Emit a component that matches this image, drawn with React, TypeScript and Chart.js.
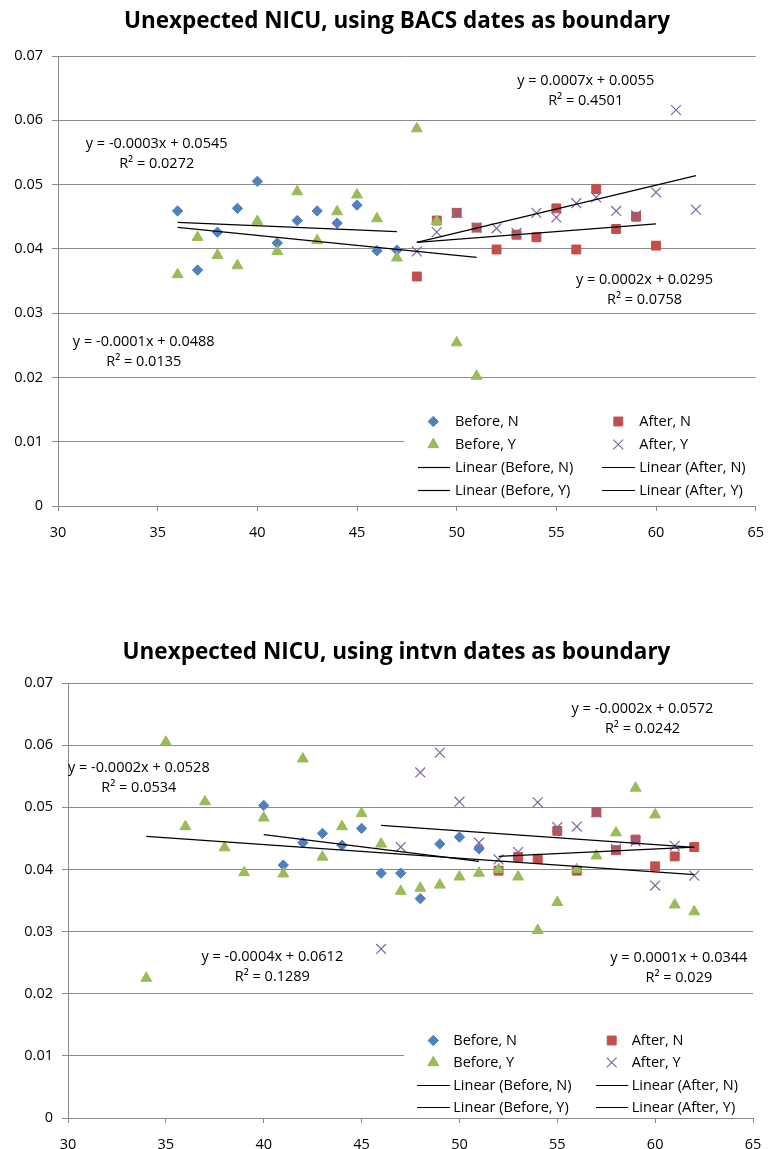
import React, { useEffect, useRef } from 'react';
import { Chart, registerables } from 'chart.js';
import { drawPoint } from 'chart.js/helpers';

Chart.register(...registerables);

// ---------- Series colours (Office palette) ----------
const BLUE = '#4F81BD';
const RED = '#C0504D';
const GREEN = '#9BBB59';
const PURPLE = '#8064A2';
const GRID = '#8a8a8a';
const FONT = '"Open Sans", Lato, sans-serif';

// ---------- Axis ticks ----------
const X_MIN = 30;
const X_MAX = 65;
const X_STEP = 5;
const Y_MIN = 0;
const Y_MAX = 0.07;
const Y_STEP = 0.01;

const SERIES_NAMES = ['Before, N', 'After, N', 'Before, Y', 'After, Y'];

// ---------- Panel 1: BACS dates as boundary ----------
const bacsBeforeNX = [36, 37, 38, 39, 40, 41, 42, 43, 44, 45, 46, 47];
const bacsBeforeNY = [0.0459, 0.0367, 0.0426, 0.0463, 0.0505, 0.0409, 0.0444, 0.0459, 0.044, 0.0468, 0.0397, 0.0398];

const bacsAfterNX = [48, 49, 50, 51, 52, 53, 54, 55, 56, 57, 58, 59, 60];
const bacsAfterNY = [0.0357, 0.0444, 0.0456, 0.0433, 0.0399, 0.0422, 0.0418, 0.0463, 0.0399, 0.0493, 0.0431, 0.045, 0.0405];

const bacsBeforeYX = [36, 37, 38, 39, 40, 41, 42, 43, 44, 45, 46, 47, 48, 49, 50, 51];
const bacsBeforeYY = [0.036, 0.0418, 0.039, 0.0374, 0.0443, 0.0396, 0.0489, 0.0413, 0.0458, 0.0484, 0.0447, 0.0386, 0.0587, 0.0443, 0.0254, 0.0202];

const bacsAfterYX = [48, 49, 50, 51, 52, 53, 54, 55, 56, 57, 58, 59, 60, 61, 62];
const bacsAfterYY = [0.0396, 0.0426, 0.0456, 0.0433, 0.0432, 0.0425, 0.0456, 0.0449, 0.0471, 0.048, 0.0459, 0.0452, 0.0488, 0.0616, 0.0461];

// Linear trend fits, in series order: Before N, After N, Before Y, After Y
const bacsSlopes = [-0.00013, 0.00024, -0.00031, 0.00074];
const bacsIntercepts = [0.0488, 0.0295, 0.0545, 0.0055];
const bacsR2 = [0.0135, 0.0758, 0.0272, 0.4501];

// ---------- Panel 2: intervention dates as boundary ----------
const intvnBeforeNX = [40, 41, 42, 43, 44, 45, 46, 47, 48, 49, 50, 51];
const intvnBeforeNY = [0.0503, 0.0407, 0.0443, 0.0458, 0.0439, 0.0466, 0.0394, 0.0394, 0.0353, 0.0441, 0.0452, 0.0433];

const intvnAfterNX = [52, 53, 54, 55, 56, 57, 58, 59, 60, 61, 62];
const intvnAfterNY = [0.0398, 0.042, 0.0417, 0.0462, 0.0398, 0.0492, 0.0431, 0.0448, 0.0405, 0.0421, 0.0436];

const intvnBeforeYX = [34, 35, 36, 37, 38, 39, 40, 41, 42, 43, 44, 45, 46, 47, 48, 49, 50, 51, 52, 53, 54, 55, 56, 57, 58, 59, 60, 61, 62];
const intvnBeforeYY = [0.0225, 0.0605, 0.0469, 0.0509, 0.0435, 0.0395, 0.0483, 0.0393, 0.0578, 0.042, 0.0469, 0.049, 0.0441, 0.0365, 0.037, 0.0375, 0.0388, 0.0394, 0.04, 0.0388, 0.0302, 0.0347, 0.04, 0.0422, 0.0459, 0.0531, 0.0488, 0.0343, 0.0332];

const intvnAfterYX = [46, 47, 48, 49, 50, 51, 52, 53, 54, 55, 56, 57, 58, 59, 60, 61, 62];
const intvnAfterYY = [0.0272, 0.0436, 0.0556, 0.0588, 0.0509, 0.0443, 0.0416, 0.0428, 0.0508, 0.0468, 0.0469, 0.0492, 0.0433, 0.0445, 0.0374, 0.0438, 0.039];

const intvnSlopes = [-0.00039, 0.000148, -0.00022, -0.00022];
const intvnIntercepts = [0.0612, 0.0344, 0.0528, 0.0572];
const intvnR2 = [0.1289, 0.029, 0.0534, 0.0242];

// ---------- Marker look per series ----------
const MARKERS = [
  { color: BLUE, pointStyle: 'rectRot', radius: 5.2, borderWidth: 1 },
  { color: RED, pointStyle: 'rect', radius: 6.3, borderWidth: 1 },
  { color: GREEN, pointStyle: 'triangle', radius: 6.3, borderWidth: 1 },
  { color: PURPLE, pointStyle: 'crossRot', radius: 7, borderWidth: 1.2 },
];

type Panel = {
  title: string;
  xs: number[][];
  ys: number[][];
  slopes: number[];
  intercepts: number[];
  r2: number[];
  // where each trend equation is centred, in axis units
  labelAt: [number, number][];
  height: number;
  area: { left: number; right: number; top: number; bottom: number };
  titleX: number;
  titleY: number;
  legend: { box: [number, number, number, number]; rows: number[]; markerX: number[]; textX: number[]; lineX: [number, number][] };
};

const PANELS: Panel[] = [
  {
    title: 'Unexpected NICU, using BACS dates as boundary',
    xs: [bacsBeforeNX, bacsAfterNX, bacsBeforeYX, bacsAfterYX],
    ys: [bacsBeforeNY, bacsAfterNY, bacsBeforeYY, bacsAfterYY],
    slopes: bacsSlopes,
    intercepts: bacsIntercepts,
    r2: bacsR2,
    labelAt: [[34.3, 0.0255], [59.42, 0.0352], [34.95, 0.0563], [56.47, 0.0662]],
    height: 560,
    area: { left: 58, right: 765, top: 56, bottom: 506 },
    titleX: 397,
    titleY: 22,
    legend: {
      box: [404, 403, 361, 100],
      rows: [421.5, 444.5, 467.5, 490.5],
      markerX: [433.3, 618.3],
      textX: [455, 639.3],
      lineX: [[418, 450], [602, 635]],
    },
  },
  {
    title: 'Unexpected NICU, using intvn dates as boundary',
    xs: [intvnBeforeNX, intvnAfterNX, intvnBeforeYX, intvnAfterYX],
    ys: [intvnBeforeNY, intvnAfterNY, intvnBeforeYY, intvnAfterYY],
    slopes: intvnSlopes,
    intercepts: intvnIntercepts,
    r2: intvnR2,
    labelAt: [[40.44, 0.026], [61.21, 0.0258], [33.62, 0.0564], [59.35, 0.0658]],
    height: 549,
    area: { left: 68, right: 753, top: 83, bottom: 518 },
    titleX: 396.5,
    titleY: 53,
    legend: {
      box: [404, 421, 349, 95],
      rows: [440.5, 462.5, 485.5, 507.5],
      markerX: [433.3, 611.7],
      textX: [453.3, 631.7],
      lineX: [[417, 450], [596, 628.3]],
    },
  },
];

const X_AXIS_H = 36;
const CANVAS_W = 777;
const LINE_GAP = 20;

function trendLabel(slope: number, intercept: number) {
  return `y = ${slope.toFixed(4)}x + ${intercept.toFixed(4)}`;
}

function buildChart(canvas: HTMLCanvasElement, p: Panel) {
  const seriesSets = p.xs.map((xs, i) => ({
    label: SERIES_NAMES[i],
    data: xs.map((x, j) => ({ x, y: p.ys[i][j] })),
    pointStyle: MARKERS[i].pointStyle,
    pointRadius: MARKERS[i].radius,
    pointBorderWidth: MARKERS[i].borderWidth,
    backgroundColor: MARKERS[i].color,
    borderColor: MARKERS[i].color,
    showLine: false,
    order: 4 - i,
  }));

  const trendSets = p.xs.map((xs, i) => {
    const lo = Math.min(...xs);
    const hi = Math.max(...xs);
    return {
      label: `Linear (${SERIES_NAMES[i]})`,
      data: [
        { x: lo, y: p.slopes[i] * lo + p.intercepts[i] },
        { x: hi, y: p.slopes[i] * hi + p.intercepts[i] },
      ],
      showLine: true,
      pointRadius: 0,
      borderColor: '#000',
      backgroundColor: '#000',
      borderWidth: 1.2,
      order: 0,
    };
  });

  const overlay = {
    id: 'panelOverlay',
    afterDatasetsDraw(chart: Chart) {
      const ctx = chart.ctx;
      const xs = chart.scales.x;
      const ys = chart.scales.y;
      ctx.save();
      // title
      ctx.fillStyle = '#000';
      ctx.font = `bold 22.5px ${FONT}`;
      ctx.textAlign = 'center';
      ctx.textBaseline = 'middle';
      ctx.fillText(p.title, p.titleX, p.titleY);

      // trend equations
      ctx.font = `14.5px ${FONT}`;
      p.labelAt.forEach(([lx, ly], i) => {
        const px = xs.getPixelForValue(lx);
        const py = ys.getPixelForValue(ly);
        ctx.fillText(trendLabel(p.slopes[i], p.intercepts[i]), px, py);
        ctx.fillText(`R² = ${p.r2[i]}`, px, py + LINE_GAP);
      });

      // legend
      const L = p.legend;
      ctx.fillStyle = '#fff';
      ctx.fillRect(L.box[0], L.box[1], L.box[2], L.box[3]);
      ctx.textAlign = 'left';
      for (let k = 0; k < 8; k++) {
        const row = Math.floor(k / 2);
        const col = k % 2;
        const y = L.rows[row];
        if (row < 2) {
          const si = row * 2 + col;
          const m = MARKERS[si];
          ctx.fillStyle = m.color;
          ctx.strokeStyle = m.color;
          ctx.lineWidth = m.borderWidth;
          drawPoint(ctx, { pointStyle: m.pointStyle, radius: m.radius, rotation: 0, borderWidth: m.borderWidth }, L.markerX[col], y);
          ctx.fillStyle = '#000';
          ctx.fillText(SERIES_NAMES[si], L.textX[col], y);
        } else {
          const si = (row - 2) * 2 + col;
          ctx.strokeStyle = '#000';
          ctx.lineWidth = 1.2;
          ctx.beginPath();
          ctx.moveTo(L.lineX[col][0], y);
          ctx.lineTo(L.lineX[col][1], y);
          ctx.stroke();
          ctx.fillStyle = '#000';
          ctx.fillText(`Linear (${SERIES_NAMES[si]})`, L.textX[col], y);
        }
      }
      ctx.restore();
    },
  };

  return new Chart(canvas, {
    type: 'scatter',
    data: { datasets: [...trendSets, ...seriesSets] as any },
    plugins: [overlay],
    options: {
      animation: false,
      responsive: false,
      devicePixelRatio: 1,
      layout: {
        autoPadding: false,
        padding: {
          top: p.area.top,
          right: CANVAS_W - p.area.right,
          bottom: p.height - p.area.bottom - X_AXIS_H,
          left: 0,
        },
      },
      plugins: {
        legend: { display: false },
        tooltip: { enabled: false },
        title: { display: false },
      },
      scales: {
        x: {
          type: 'linear',
          min: X_MIN,
          max: X_MAX,
          ticks: { stepSize: X_STEP, color: '#000', font: { family: FONT, size: 14.5 }, padding: 13 },
          grid: { drawOnChartArea: false, drawTicks: true, tickLength: 5, color: GRID },
          border: { color: GRID, width: 1 },
          afterFit: (s: any) => {
            s.height = X_AXIS_H;
          },
        },
        y: {
          type: 'linear',
          min: Y_MIN,
          max: Y_MAX,
          ticks: {
            stepSize: Y_STEP,
            color: '#000',
            font: { family: FONT, size: 14.5 },
            padding: 9,
            callback: (v: any) => (Number(v) === 0 ? '0' : Number(v).toFixed(2)),
          },
          grid: { color: GRID, tickLength: 6, lineWidth: 1 },
          border: { color: GRID, width: 1 },
          afterFit: (s: any) => {
            s.width = p.area.left;
          },
        },
      },
    } as any,
  });
}

function PanelChart({ panel, top }: { panel: Panel; top: number }) {
  const ref = useRef<HTMLCanvasElement | null>(null);
  useEffect(() => {
    if (!ref.current) return;
    const chart = buildChart(ref.current, panel);
    return () => chart.destroy();
  }, [panel]);
  return (
    <canvas
      ref={ref}
      width={CANVAS_W}
      height={panel.height}
      style={{ position: 'absolute', left: 0, top, width: CANVAS_W, height: panel.height, display: 'block' }}
    />
  );
}

export default function App() {
  return (
    <div style={{ position: 'absolute', left: 0, top: 0, width: 777, height: 1149, background: '#fff' }}>
      <PanelChart panel={PANELS[0]} top={0} />
      <PanelChart panel={PANELS[1]} top={600} />
    </div>
  );
}
